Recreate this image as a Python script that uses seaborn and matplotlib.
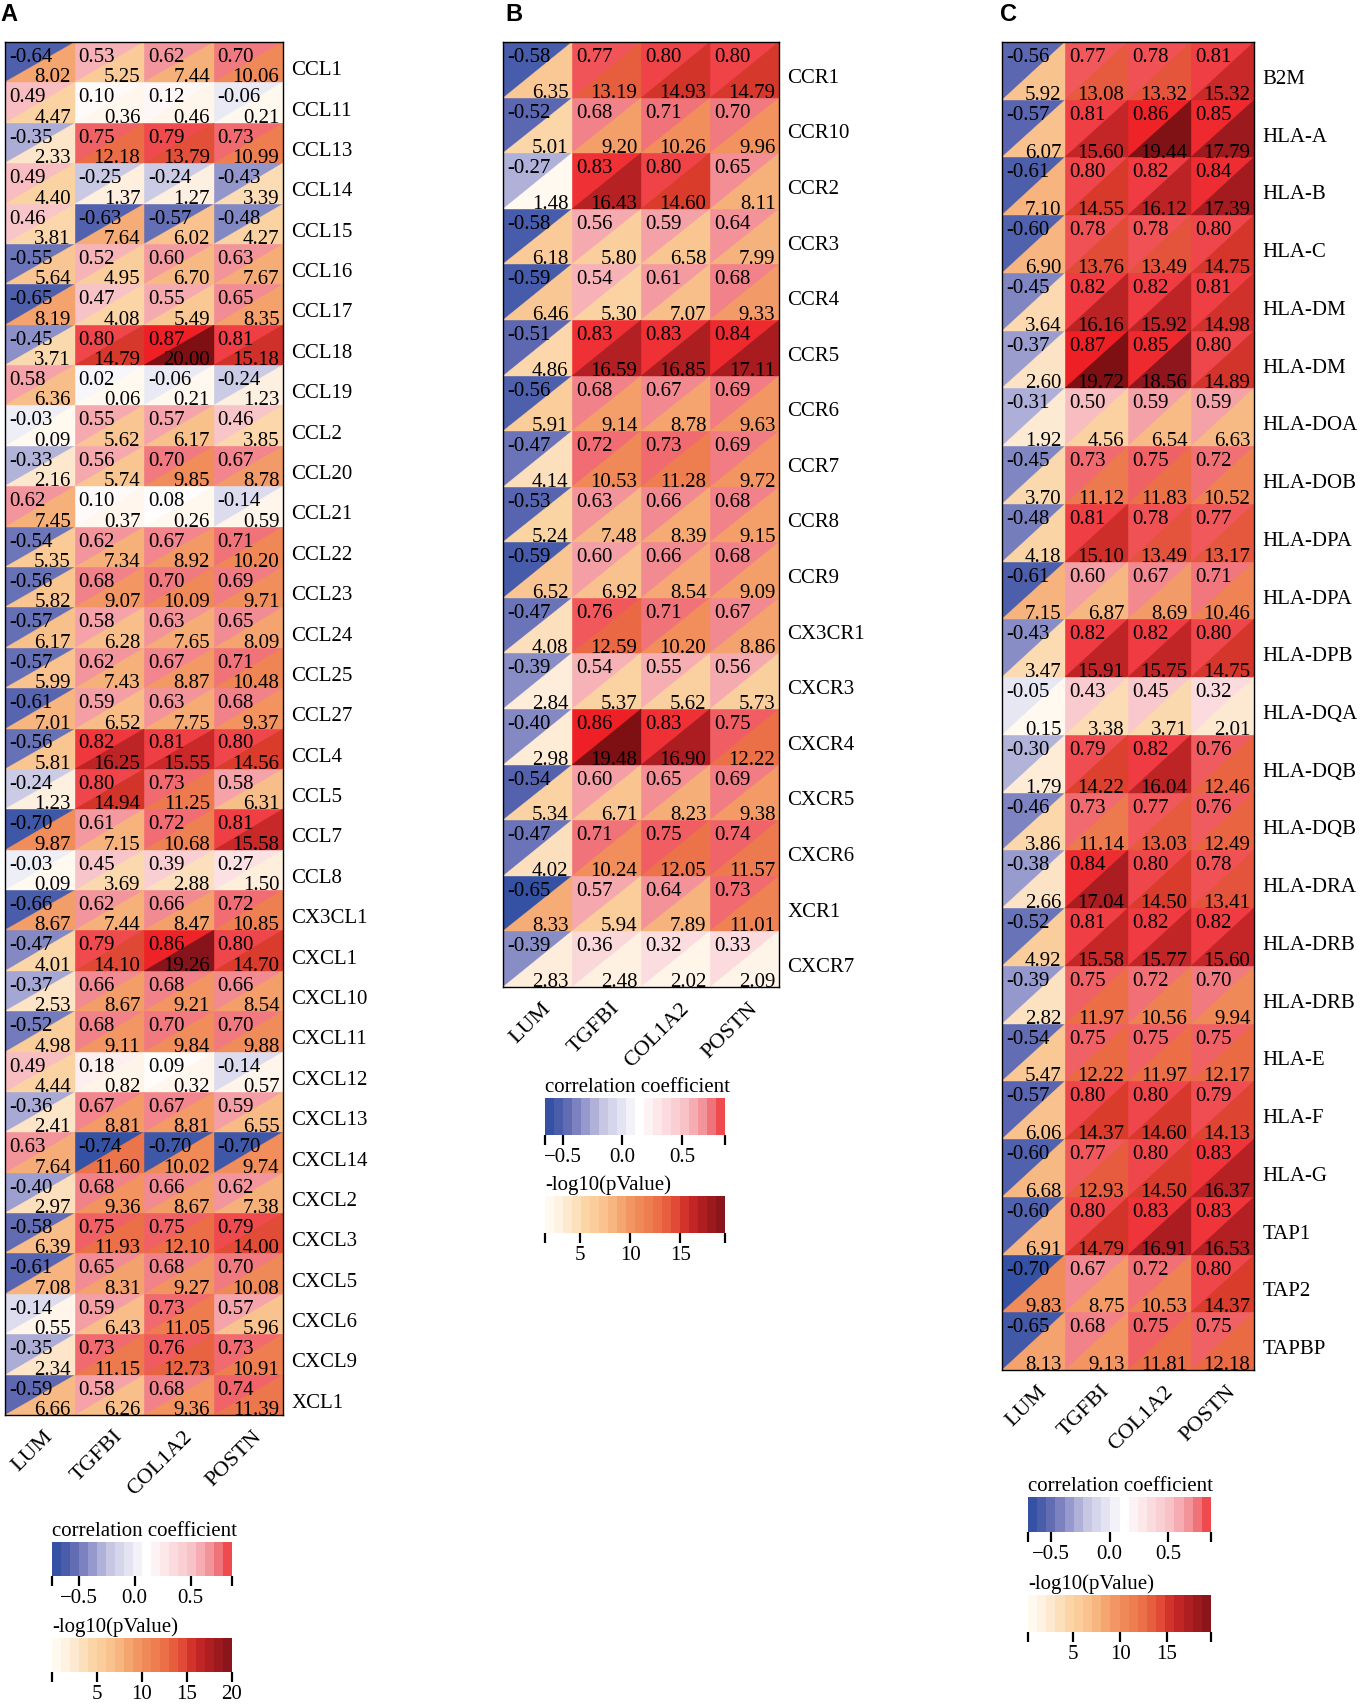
import numpy as np
import matplotlib
matplotlib.use('Agg')
import matplotlib.pyplot as plt
import seaborn as sns
from matplotlib.colors import LinearSegmentedColormap, ListedColormap, Normalize
from matplotlib.collections import PolyCollection
from matplotlib.cm import ScalarMappable
import matplotlib.transforms as mtransforms

# ---------------- data ----------------
cols = ["LUM", "TGFBI", "COL1A2", "POSTN"]

rows_A = ["CCL1", "CCL11", "CCL13", "CCL14", "CCL15", "CCL16", "CCL17", "CCL18", "CCL19", "CCL2",
          "CCL20", "CCL21", "CCL22", "CCL23", "CCL24", "CCL25", "CCL27", "CCL4", "CCL5", "CCL7",
          "CCL8", "CX3CL1", "CXCL1", "CXCL10", "CXCL11", "CXCL12", "CXCL13", "CXCL14", "CXCL2",
          "CXCL3", "CXCL5", "CXCL6", "CXCL9", "XCL1"]
corr_A = [[-0.64, 0.53, 0.62, 0.70], [0.49, 0.10, 0.12, -0.06], [-0.35, 0.75, 0.79, 0.73],
          [0.49, -0.25, -0.24, -0.43], [0.46, -0.63, -0.57, -0.48], [-0.55, 0.52, 0.60, 0.63],
          [-0.65, 0.47, 0.55, 0.65], [-0.45, 0.80, 0.87, 0.81], [0.58, 0.02, -0.06, -0.24],
          [-0.03, 0.55, 0.57, 0.46], [-0.33, 0.56, 0.70, 0.67], [0.62, 0.10, 0.08, -0.14],
          [-0.54, 0.62, 0.67, 0.71], [-0.56, 0.68, 0.70, 0.69], [-0.57, 0.58, 0.63, 0.65],
          [-0.57, 0.62, 0.67, 0.71], [-0.61, 0.59, 0.63, 0.68], [-0.56, 0.82, 0.81, 0.80],
          [-0.24, 0.80, 0.73, 0.58], [-0.70, 0.61, 0.72, 0.81], [-0.03, 0.45, 0.39, 0.27],
          [-0.66, 0.62, 0.66, 0.72], [-0.47, 0.79, 0.86, 0.80], [-0.37, 0.66, 0.68, 0.66],
          [-0.52, 0.68, 0.70, 0.70], [0.49, 0.18, 0.09, -0.14], [-0.36, 0.67, 0.67, 0.59],
          [0.63, -0.74, -0.70, -0.70], [-0.40, 0.68, 0.66, 0.62], [-0.58, 0.75, 0.75, 0.79],
          [-0.61, 0.65, 0.68, 0.70], [-0.14, 0.59, 0.73, 0.57], [-0.35, 0.73, 0.76, 0.73],
          [-0.59, 0.58, 0.68, 0.74]]
logp_A = [[8.02, 5.25, 7.44, 10.06], [4.47, 0.36, 0.46, 0.21], [2.33, 12.18, 13.79, 10.99],
          [4.40, 1.37, 1.27, 3.39], [3.81, 7.64, 6.02, 4.27], [5.64, 4.95, 6.70, 7.67],
          [8.19, 4.08, 5.49, 8.35], [3.71, 14.79, 20.00, 15.18], [6.36, 0.06, 0.21, 1.23],
          [0.09, 5.62, 6.17, 3.85], [2.16, 5.74, 9.85, 8.78], [7.45, 0.37, 0.26, 0.59],
          [5.35, 7.34, 8.92, 10.20], [5.82, 9.07, 10.09, 9.71], [6.17, 6.28, 7.65, 8.09],
          [5.99, 7.43, 8.87, 10.48], [7.01, 6.52, 7.75, 9.37], [5.81, 16.25, 15.55, 14.56],
          [1.23, 14.94, 11.25, 6.31], [9.87, 7.15, 10.68, 15.58], [0.09, 3.69, 2.88, 1.50],
          [8.67, 7.44, 8.47, 10.85], [4.01, 14.10, 19.26, 14.70], [2.53, 8.67, 9.21, 8.54],
          [4.98, 9.11, 9.84, 9.88], [4.44, 0.82, 0.32, 0.57], [2.41, 8.81, 8.81, 6.55],
          [7.64, 11.60, 10.02, 9.74], [2.97, 9.36, 8.67, 7.38], [6.39, 11.93, 12.10, 14.00],
          [7.08, 8.31, 9.27, 10.08], [0.55, 6.43, 11.05, 5.96], [2.34, 11.15, 12.73, 10.91],
          [6.66, 6.26, 9.36, 11.39]]

rows_B = ["CCR1", "CCR10", "CCR2", "CCR3", "CCR4", "CCR5", "CCR6", "CCR7", "CCR8", "CCR9",
          "CX3CR1", "CXCR3", "CXCR4", "CXCR5", "CXCR6", "XCR1", "CXCR7"]
corr_B = [[-0.58, 0.77, 0.80, 0.80], [-0.52, 0.68, 0.71, 0.70], [-0.27, 0.83, 0.80, 0.65],
          [-0.58, 0.56, 0.59, 0.64], [-0.59, 0.54, 0.61, 0.68], [-0.51, 0.83, 0.83, 0.84],
          [-0.56, 0.68, 0.67, 0.69], [-0.47, 0.72, 0.73, 0.69], [-0.53, 0.63, 0.66, 0.68],
          [-0.59, 0.60, 0.66, 0.68], [-0.47, 0.76, 0.71, 0.67], [-0.39, 0.54, 0.55, 0.56],
          [-0.40, 0.86, 0.83, 0.75], [-0.54, 0.60, 0.65, 0.69], [-0.47, 0.71, 0.75, 0.74],
          [-0.65, 0.57, 0.64, 0.73], [-0.39, 0.36, 0.32, 0.33]]
logp_B = [[6.35, 13.19, 14.93, 14.79], [5.01, 9.20, 10.26, 9.96], [1.48, 16.43, 14.60, 8.11],
          [6.18, 5.80, 6.58, 7.99], [6.46, 5.30, 7.07, 9.33], [4.86, 16.59, 16.85, 17.11],
          [5.91, 9.14, 8.78, 9.63], [4.14, 10.53, 11.28, 9.72], [5.24, 7.48, 8.39, 9.15],
          [6.52, 6.92, 8.54, 9.09], [4.08, 12.59, 10.20, 8.86], [2.84, 5.37, 5.62, 5.73],
          [2.98, 19.48, 16.90, 12.22], [5.34, 6.71, 8.23, 9.38], [4.02, 10.24, 12.05, 11.57],
          [8.33, 5.94, 7.89, 11.01], [2.83, 2.48, 2.02, 2.09]]

rows_C = ["B2M", "HLA-A", "HLA-B", "HLA-C", "HLA-DM", "HLA-DM", "HLA-DOA", "HLA-DOB", "HLA-DPA",
          "HLA-DPA", "HLA-DPB", "HLA-DQA", "HLA-DQB", "HLA-DQB", "HLA-DRA", "HLA-DRB", "HLA-DRB",
          "HLA-E", "HLA-F", "HLA-G", "TAP1", "TAP2", "TAPBP"]
corr_C = [[-0.56, 0.77, 0.78, 0.81], [-0.57, 0.81, 0.86, 0.85], [-0.61, 0.80, 0.82, 0.84],
          [-0.60, 0.78, 0.78, 0.80], [-0.45, 0.82, 0.82, 0.81], [-0.37, 0.87, 0.85, 0.80],
          [-0.31, 0.50, 0.59, 0.59], [-0.45, 0.73, 0.75, 0.72], [-0.48, 0.81, 0.78, 0.77],
          [-0.61, 0.60, 0.67, 0.71], [-0.43, 0.82, 0.82, 0.80], [-0.05, 0.43, 0.45, 0.32],
          [-0.30, 0.79, 0.82, 0.76], [-0.46, 0.73, 0.77, 0.76], [-0.38, 0.84, 0.80, 0.78],
          [-0.52, 0.81, 0.82, 0.82], [-0.39, 0.75, 0.72, 0.70], [-0.54, 0.75, 0.75, 0.75],
          [-0.57, 0.80, 0.80, 0.79], [-0.60, 0.77, 0.80, 0.83], [-0.60, 0.80, 0.83, 0.83],
          [-0.70, 0.67, 0.72, 0.80], [-0.65, 0.68, 0.75, 0.75]]
logp_C = [[5.92, 13.08, 13.32, 15.32], [6.07, 15.60, 19.44, 17.79], [7.10, 14.55, 16.12, 17.39],
          [6.90, 13.76, 13.49, 14.75], [3.64, 16.16, 15.92, 14.98], [2.60, 19.72, 18.56, 14.89],
          [1.92, 4.56, 6.54, 6.63], [3.70, 11.12, 11.83, 10.52], [4.18, 15.10, 13.49, 13.17],
          [7.15, 6.87, 8.69, 10.46], [3.47, 15.91, 15.75, 14.75], [0.15, 3.38, 3.71, 2.01],
          [1.79, 14.22, 16.04, 12.46], [3.86, 11.14, 13.03, 12.49], [2.66, 17.04, 14.50, 13.41],
          [4.92, 15.58, 15.77, 15.60], [2.82, 11.97, 10.56, 9.94], [5.47, 12.22, 11.97, 12.17],
          [6.06, 14.37, 14.60, 14.13], [6.68, 12.93, 14.50, 16.37], [6.91, 14.79, 16.91, 16.53],
          [9.83, 8.75, 10.53, 14.37], [8.13, 9.13, 11.81, 12.18]]

# ---------------- style ----------------
sns.set_style("white")
plt.rcParams['font.family'] = ['Liberation Serif', 'DejaVu Serif']
plt.rcParams['text.color'] = 'black'
plt.rcParams['axes.unicode_minus'] = True

corr_cmap = LinearSegmentedColormap.from_list("corr", [
    (0.0, "#3451A3"), (0.085, "#5A66B0"), (0.18, "#8C90C8"), (0.30, "#C8C8E4"),
    (0.5, "#FFFFFF"), (0.75, "#F8C4C8"), (0.875, "#F28890"), (0.935, "#F05A5E"),
    (1.0, "#EE1F25")])
p_cmap = LinearSegmentedColormap.from_list("logp", [
    (0.0, "#FFF9F0"), (0.06, "#FEF0E0"), (0.115, "#FDE5C9"), (0.2, "#FBD5A6"),
    (0.26, "#FACB98"), (0.37, "#F6B07A"), (0.4, "#F5A570"), (0.5, "#F08A58"),
    (0.61, "#EB6C45"), (0.69, "#E3503A"), (0.73, "#DA3C2C"), (0.78, "#C82828"),
    (0.87, "#A81C20"), (0.97, "#84141A"), (1.0, "#7E1014")])

W, H = 1362, 1706
fig = plt.figure(figsize=(W / 100, H / 100), dpi=100)


def box(x0, y0, x1, y1):
    return [x0 / W, 1 - y1 / H, (x1 - x0) / W, (y1 - y0) / H]


def stepped(cmap, n=20):
    # legend bins take the colour at the start of each bin
    return ListedColormap(cmap(np.arange(n) / n))


def draw_cbar(cax, cmap, vmin, vmax, ticks, labels, title):
    sm = ScalarMappable(norm=Normalize(vmin, vmax), cmap=stepped(cmap))
    cb = fig.colorbar(sm, cax=cax, orientation='horizontal')
    cb.outline.set_visible(False)
    cb.set_ticks(ticks)
    cb.set_ticklabels(labels)
    cax.tick_params(axis='x', bottom=True, length=7, width=1.6, color='black',
                    labelsize=15, pad=2, labelcolor='black')
    cax.text(0, 1.06, title, transform=cax.transAxes, ha='left', va='bottom', fontsize=15)


panels = [
    ("A", 0, rows_A, corr_A, logp_A, (5, 43, 283, 1416), (52, 1543, 232, 1577), (52, 1639, 232, 1673)),
    ("B", 505, rows_B, corr_B, logp_B, (503, 43, 779, 988), (545, 1099, 725, 1136), (545, 1197, 725, 1234)),
    ("C", 1000, rows_C, corr_C, logp_C, (1002, 43, 1254, 1371), (1028, 1498, 1211, 1533), (1028, 1596, 1211, 1633)),
]

for letter, lx, rows, corr, logp, hb, cb1, cb2 in panels:
    C = np.array(corr)
    P = np.array(logp)
    cmin, cmax = C.min(), C.max()
    pmin, pmax = P.min(), P.max()
    ax = fig.add_axes(box(*hb))
    sns.heatmap(C, ax=ax, cmap=corr_cmap, vmin=cmin, vmax=cmax, cbar=False,
                xticklabels=cols, yticklabels=rows)
    pnorm = Normalize(pmin, pmax)
    verts, fcs = [], []
    for i in range(P.shape[0]):
        for j in range(P.shape[1]):
            verts.append([(j, i + 1), (j + 1, i + 1), (j + 1, i)])
            fcs.append(p_cmap(pnorm(P[i, j])))
    ax.add_collection(PolyCollection(verts, facecolors=fcs, edgecolors=fcs, linewidths=0.3))
    for i in range(C.shape[0]):
        for j in range(C.shape[1]):
            ax.annotate(f"{C[i, j]:.2f}", xy=(j, i), xytext=(2.8, -3.6), textcoords='offset points',
                        ha='left', va='top', fontsize=15, color='black')
            ax.annotate(f"{P[i, j]:.2f}", xy=(j + 1, i + 1), xytext=(-2.6, 0.7),
                        textcoords='offset points', ha='right', va='baseline', fontsize=15,
                        color='black')
    ax.yaxis.tick_right()
    ax.set_yticklabels(rows, rotation=0, fontsize=15, color='black')
    ax.set_xticklabels(cols, rotation=45, ha='right', rotation_mode='anchor', fontsize=16,
                       color='black')
    ax.tick_params(axis='y', length=0, pad=6, right=False, left=False)
    ax.tick_params(axis='x', length=0, pad=8, bottom=False)
    yoff = mtransforms.ScaledTranslation(0, -5 / 100, fig.dpi_scale_trans)
    for lab in ax.get_yticklabels():
        lab.set_transform(lab.get_transform() + yoff)
    xoff = mtransforms.ScaledTranslation(4 / 100, 0, fig.dpi_scale_trans)
    for lab in ax.get_xticklabels():
        lab.set_transform(lab.get_transform() + xoff)
    for sp in ax.spines.values():
        sp.set_visible(True)
        sp.set_color('black')
        sp.set_linewidth(1.0)

    cax1 = fig.add_axes(box(*cb1))
    draw_cbar(cax1, corr_cmap, cmin, cmax, [cmin, -0.5, 0.0, 0.5, cmax],
              ["", "\u22120.5", "0.0", "0.5", ""], "correlation coefficient")
    cax2 = fig.add_axes(box(*cb2))
    pt = [pmin] + [t for t in (5, 10, 15, 20) if t < pmax - 1e-9] + [pmax]
    pl = [""] + [str(t) for t in (5, 10, 15, 20) if t < pmax - 1e-9] + \
         (["20"] if abs(pmax - 20) < 1e-9 else [""])
    draw_cbar(cax2, p_cmap, pmin, pmax, pt, pl, "-log10(pValue)")

    fig.text(lx / W, 1 - 3 / H, letter, ha='left', va='top', fontsize=17, fontweight='bold',
             family=['Liberation Sans', 'DejaVu Sans'])

fig.savefig("out.png", dpi=100)
